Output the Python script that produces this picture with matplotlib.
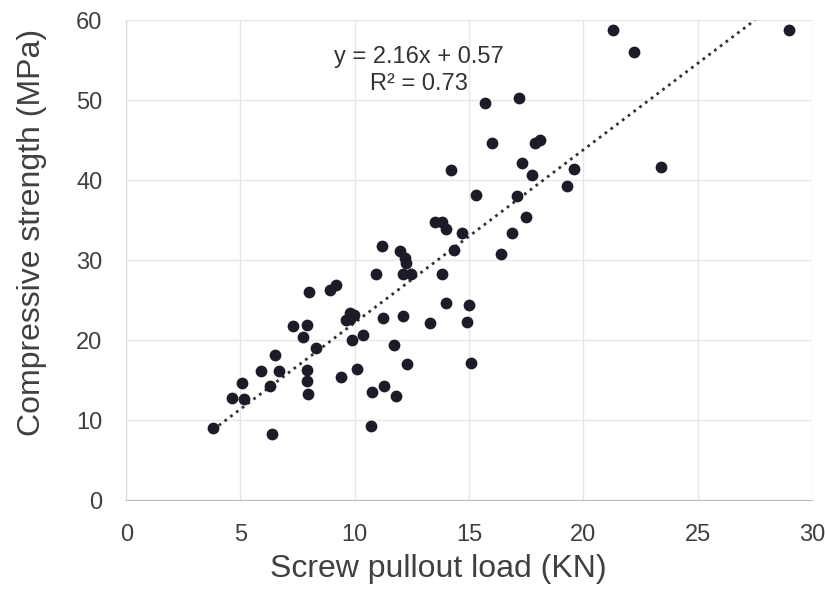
import matplotlib.pyplot as plt
import numpy as np

plt.rcParams['font.family'] = ['Liberation Sans', 'DejaVu Sans']

# screw pullout load (KN) vs compressive strength (MPa)
pullout = [3.8, 4.65, 5.05, 5.15, 5.9, 6.3, 6.5, 6.4, 6.7, 7.3,
           7.75, 7.9, 7.9, 7.9, 7.95, 8.0, 8.3, 8.9, 9.2, 9.4,
           9.6, 9.8, 9.8, 9.95, 9.9, 10.1, 10.35, 10.7, 10.75, 10.95,
           11.3, 11.2, 11.25, 11.7, 11.8, 12.0, 12.1, 12.1, 12.2, 12.25,
           12.3, 12.45, 13.3, 13.5, 13.8, 13.8, 14.0, 14.0, 14.2, 14.35,
           14.7, 14.9, 15.0, 15.1, 15.3, 15.7, 16.0, 16.4, 16.9, 17.1,
           17.2, 17.3, 17.5, 17.75, 17.9, 18.1, 19.3, 19.6, 21.3, 22.2,
           23.4, 29.0]
strength = [9.0, 12.7, 14.6, 12.6, 16.1, 14.2, 18.1, 8.2, 16.1, 21.8,
            20.4, 21.9, 16.2, 14.9, 13.3, 26.0, 19.0, 26.2, 26.9, 15.4,
            22.5, 23.4, 22.6, 23.1, 20.0, 16.4, 20.6, 9.2, 13.5, 28.3,
            14.2, 31.8, 22.7, 19.4, 13.0, 31.1, 23.0, 28.3, 30.2, 29.6,
            17.0, 28.2, 22.1, 34.8, 34.8, 28.3, 24.6, 33.9, 41.2, 31.2,
            33.4, 22.3, 24.4, 17.1, 38.1, 49.6, 44.6, 30.8, 33.4, 38.0,
            50.2, 42.1, 35.4, 40.6, 44.6, 45.0, 39.2, 41.4, 58.7, 56.0,
            41.6, 58.7]

slope, intercept = 2.16, 0.57
r2 = 0.73

fig = plt.figure(figsize=(8.25, 5.89), dpi=100)
ax = fig.add_axes([0.153, 0.151, 0.831, 0.815])

ax.scatter(pullout, strength, s=72, color='#1c1c28', zorder=3, linewidths=0)

# trendline from the first point up to the top of the plot
x0 = min(pullout)
x1 = (60 - intercept) / slope
xs = np.array([x0, x1])
ax.plot(xs, slope * xs + intercept, linestyle=(0, (1, 1.6)), color='#333333',
        lw=2, zorder=2)

ax.text(12.8, 55.4, f'y = {slope:.2f}x + {intercept:.2f}', ha='center', va='center',
        fontsize=17, color='#333333')
ax.text(12.8, 52.0, f'R² = {r2:.2f}', ha='center', va='center',
        fontsize=17, color='#333333')

ax.set_xlim(0, 30)
ax.set_ylim(0, 60)
ax.set_xticks(range(0, 31, 5))
ax.set_yticks(range(0, 61, 10))
ax.grid(True, color='#e6e6e6', lw=1)
ax.set_axisbelow(True)
for side in ['top', 'right']:
    ax.spines[side].set_visible(False)
ax.spines['left'].set_color('#d9d9d9')
ax.spines['bottom'].set_color('#bfbfbf')
ax.tick_params(length=0, labelsize=17, colors='#404040', pad=17)

ax.set_xlabel('Screw pullout load (KN)', fontsize=23, color='#404040')
ax.set_ylabel('Compressive strength (MPa)', fontsize=23, color='#404040')
ax.xaxis.set_label_coords(0.455, -0.112)
ax.yaxis.set_label_coords(-0.115, 0.558)

plt.savefig('out.png', dpi=100)
